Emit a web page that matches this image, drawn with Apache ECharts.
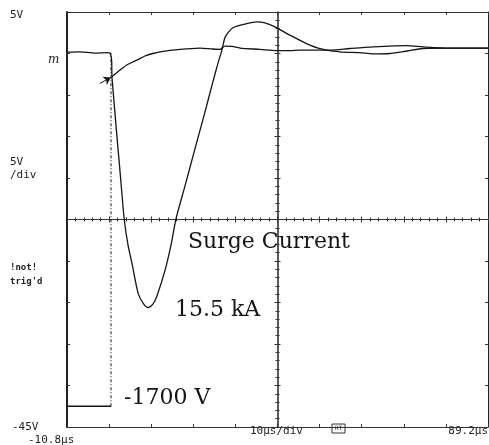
<!DOCTYPE html>
<html>
<head>
<meta charset="utf-8">
<script src="https://cdn.jsdelivr.net/npm/echarts@6/dist/echarts.min.js"></script>
<style>
  html, body { margin: 0; padding: 0; background: #fff; }
  #scope { width: 489px; height: 445px; }
</style>
</head>
<body>
<div id="scope"></div>
<script>
// time in us, screen value in V (5 V/div, 10 us/div)
var currentT = [-13.6, -7.7, -4.2, -1.1, -0.5, -0.2, -0.1, 2.0, 2.8, 3.7, 4.6, 6.1, 7.3, 8.5, 9.6, 10.5, 12.5, 13.9, 15.1, 17.2, 19.8, 22.0, 23.6, 25.1, 26.0, 26.8, 28.6, 31.9, 34.3, 36.2, 38.6, 42.2, 46.1, 49.3, 54.1, 58.8, 61.9, 65.9, 70.0, 73.8, 80.2, 89.2]
var currentV = [0.1, 0.2, 0.05, 0.1, -0.05, -0.8, -3.0, -15.4, -20.0, -23.1, -25.2, -28.9, -30.1, -30.6, -30.2, -29.3, -26.1, -23.1, -19.9, -16.0, -11.1, -7.0, -3.9, -1.1, 0.4, 2.0, 3.1, 3.6, 3.8, 3.7, 3.2, 2.2, 1.2, 0.6, 0.2, 0.1, -0.05, 0.0, 0.3, 0.6, 0.65, 0.65]

// capacitor voltage before the trigger
var chargeT = [-11.7, -0.35]
var chargeV = [-42.5, -42.5]

// voltage after the trigger
var voltageT = [-0.1, 1.8, 3.7, 5.8, 7.7, 9.6, 12.0, 14.4, 17.5, 20.8, 23.6, 25.5, 26.7, 28.4, 30.3, 35.0, 39.1, 42.2, 44.5, 51.7, 56.4, 61.9, 70.0, 73.8, 80.2, 89.2]
var voltageV = [-2.8, -2.0, -1.3, -0.8, -0.3, 0.0, 0.25, 0.4, 0.55, 0.65, 0.55, 0.5, 0.9, 0.85, 0.65, 0.5, 0.35, 0.35, 0.4, 0.4, 0.6, 0.8, 0.95, 0.8, 0.65, 0.65]

// fast edge of the voltage step, drawn dotted by the scope
var edgeT = [-0.35, -0.35]
var edgeV = [-42.5, 0.1]

// trigger arrow
var arrowT = [-3.0, -0.4]
var arrowV = [-3.6, -2.9]

var xMin = -10.8
var xMax = 89.2
var yMin = -45
var yMax = 5

var scopeLabels = ['5V', '5V', '/div', '!not!', "trig'd", '-45V', '-10.8\u00b5s', '10\u00b5s/div', '89.2\u00b5s']
var noteLabels = ['Surge Current', '15.5 kA', '-1700 V']

function zip(a, b) {
  return a.map(function (v, i) { return [v, b[i]] })
}

var myChart = echarts.init(document.getElementById('scope'))

var ink = '#151515'
var mono = '11px "DejaVu Sans Mono", monospace'
var serif = '22px "DejaVu Serif", serif'

function frameX(pos, offset, inside, showLine) {
  return {
    type: 'value', gridIndex: 0, min: 0, max: 10, interval: 1,
    position: pos, offset: offset || 0,
    axisLine: { show: showLine !== false, onZero: false, lineStyle: { color: '#333', width: 1 } },
    axisTick: { show: true, inside: inside, length: 3, lineStyle: { color: '#333' } },
    minorTick: { show: !!offset, splitNumber: 5, length: 2, lineStyle: { color: '#333' } },
    axisLabel: { show: false },
    splitLine: { show: false }
  }
}

function frameY(pos, offset, inside, showLine, width) {
  return {
    type: 'value', gridIndex: 0, min: yMin, max: yMax, interval: 5,
    position: pos, offset: offset || 0,
    axisLine: { show: showLine !== false, onZero: false, lineStyle: { color: '#222', width: width || 1 } },
    axisTick: { show: true, inside: inside, length: 3, lineStyle: { color: '#333' } },
    minorTick: { show: !!offset, splitNumber: 5, length: 2, lineStyle: { color: '#333' } },
    axisLabel: { show: false },
    splitLine: { show: false }
  }
}

function trace(name, data, extra) {
  var s = {
    name: name,
    type: 'line',
    xAxisIndex: 0, yAxisIndex: 0,
    data: data,
    showSymbol: false, symbol: 'none', clip: false,
    smooth: 0.25,
    lineStyle: { color: ink, width: 1.3 }
  }
  for (var k in extra) s[k] = extra[k]
  return s
}

var option = {
  animation: false,
  backgroundColor: '#fff',
  grid: { left: 67, top: 12, width: 421, height: 415 },
  xAxis: [
    { type: 'value', gridIndex: 0, min: xMin, max: xMax, show: false, axisLine: { onZero: false } },
    frameX('bottom', 0, true),
    frameX('top', 0, true),
    frameX('bottom', -207.5, false),
    frameX('bottom', -207.5, true, false)
  ],
  yAxis: [
    frameY('left', 0, true, true, 2),
    frameY('right', 0, true),
    frameY('left', -210.5, false, true, 1.5),
    frameY('left', -210.5, true, false)
  ],
  series: [
    trace('current', zip(currentT, currentV)),
    trace('charge', zip(chargeT, chargeV), { smooth: false }),
    trace('voltage', zip(voltageT, voltageV), {
      markLine: {
        silent: true,
        animation: false,
        symbol: ['none', 'arrow'],
        symbolSize: 7,
        label: { show: false },
        lineStyle: { color: ink, width: 1, type: 'solid' },
        data: [[{ coord: [arrowT[0], arrowV[0]] }, { coord: [arrowT[1], arrowV[1]] }]]
      }
    }),
    trace('edge', zip(edgeT, edgeV), { smooth: false, lineStyle: { color: ink, width: 1, type: [3, 2, 1, 2] } })
  ],
  graphic: [
    { type: 'text', x: 10, y: 15, style: { text: scopeLabels[0], font: mono, fill: '#222', verticalAlign: 'middle' } },
    { type: 'text', x: 10, y: 162, style: { text: scopeLabels[1], font: mono, fill: '#222', verticalAlign: 'middle' } },
    { type: 'text', x: 10, y: 175, style: { text: scopeLabels[2], font: mono, fill: '#222', verticalAlign: 'middle' } },
    { type: 'text', x: 10, y: 268, style: { text: scopeLabels[3], font: 'bold 9px "DejaVu Sans Mono", monospace', fill: '#222', verticalAlign: 'middle' } },
    { type: 'text', x: 10, y: 282, style: { text: scopeLabels[4], font: 'bold 9px "DejaVu Sans Mono", monospace', fill: '#222', verticalAlign: 'middle' } },
    { type: 'text', x: 12, y: 427, style: { text: scopeLabels[5], font: mono, fill: '#222', verticalAlign: 'middle' } },
    { type: 'text', x: 28, y: 440, style: { text: scopeLabels[6], font: mono, fill: '#222', verticalAlign: 'middle' } },
    { type: 'text', x: 250, y: 431, style: { text: scopeLabels[7], font: mono, fill: '#222', verticalAlign: 'middle' } },
    { type: 'text', x: 488, y: 431, style: { text: scopeLabels[8], font: mono, fill: '#222', align: 'right', verticalAlign: 'middle' } },
    { type: 'rect', shape: { x: 332, y: 424, width: 13, height: 9 }, style: { fill: 'none', stroke: '#333', lineWidth: 1 } },
    { type: 'text', x: 338.5, y: 428.5, style: { text: 'RT', font: '6px "DejaVu Sans Mono", monospace', fill: '#222', align: 'center', verticalAlign: 'middle' } },
    { type: 'text', x: 48, y: 60, style: { text: 'm', font: 'italic 12px "DejaVu Serif", serif', fill: '#222', verticalAlign: 'middle' } },
    { type: 'text', x: 188, y: 242, style: { text: noteLabels[0], font: serif, fill: ink, verticalAlign: 'middle' } },
    { type: 'text', x: 175, y: 310, style: { text: noteLabels[1], font: serif, fill: ink, verticalAlign: 'middle' } },
    { type: 'text', x: 124, y: 398, style: { text: noteLabels[2], font: serif, fill: ink, verticalAlign: 'middle' } }
  ]
}

myChart.setOption(option)
</script>
</body>
</html>
